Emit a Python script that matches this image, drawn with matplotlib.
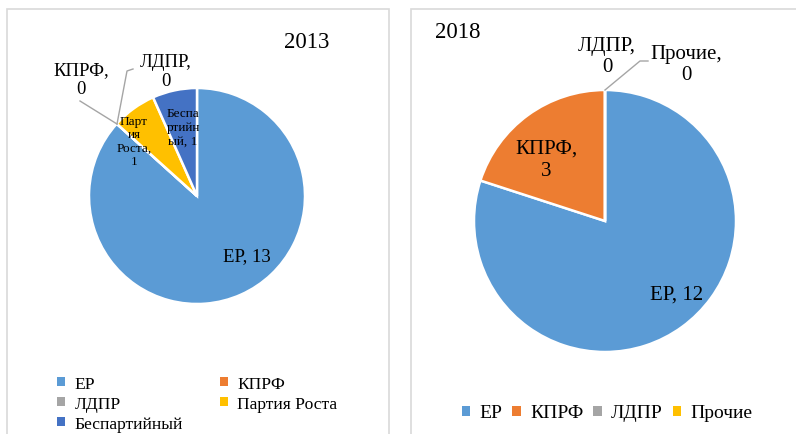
import matplotlib
matplotlib.use("Agg")
import matplotlib.pyplot as plt
from matplotlib.patches import Rectangle, Patch

plt.rcParams['font.family'] = 'Liberation Serif'
FAM = 'Liberation Serif'

# ---- data ----
parties_2013 = ["ЕР", "КПРФ", "ЛДПР", "Партия Роста", "Беспартийный"]
values_2013 = [13, 0, 0, 1, 1]
colors_2013 = ["#5B9BD5", "#ED7D31", "#A5A5A5", "#FFC000", "#4472C4"]

parties_2018 = ["ЕР", "КПРФ", "ЛДПР", "Прочие"]
values_2018 = [12, 3, 0, 0]
colors_2018 = ["#5B9BD5", "#ED7D31", "#A5A5A5", "#FFC000"]

W, H = 796, 435
fig = plt.figure(figsize=(W / 100, H / 100), dpi=100)
ax = fig.add_axes([0, 0, 1, 1])

def Y(yp):
    return H - yp

wp = dict(edgecolor="white", linewidth=1.8)
ax.pie(values_2013, colors=colors_2013, startangle=90, counterclock=False,
       center=(197, Y(197)), radius=108, wedgeprops=wp, frame=True)
ax.pie(values_2018, colors=colors_2018, startangle=90, counterclock=False,
       center=(605, Y(222)), radius=131, wedgeprops=wp, frame=True)
ax.set_xlim(0, W)
ax.set_ylim(0, H)
ax.set_aspect('equal')
ax.axis('off')

# panel borders
ax.add_patch(Rectangle((7, Y(440)), 382, 430, fill=False, ec="#D9D9D9", lw=1.2))
ax.add_patch(Rectangle((411, Y(440)), 400, 430, fill=False, ec="#D9D9D9", lw=1.2))

tk = dict(family=FAM, ha='center', va='center')
# titles
ax.text(307, Y(42), "2013", fontsize=16.5, **tk)
ax.text(458, Y(33), "2018", fontsize=16.5, **tk)

# 2013 labels
fs1 = 13.5
ax.text(247, Y(257), f"{parties_2013[0]}, {values_2013[0]}", fontsize=fs1, **tk)
ax.text(81, Y(80), f"{parties_2013[1]},\n{values_2013[1]}", fontsize=fs1, linespacing=1.2, **tk)
ax.text(166, Y(72), f"{parties_2013[2]},\n{values_2013[2]}", fontsize=fs1, linespacing=1.2, **tk)
ax.text(134, Y(142), "Парт\nия\nРоста,\n" + str(values_2013[3]), fontsize=9.5, linespacing=1.15, **tk)
ax.text(183, Y(128), "Беспа\nртийн\nый, " + str(values_2013[4]), fontsize=9.5, linespacing=1.2, **tk)
ax.plot([117, 80], [Y(125), Y(102)], color="#A5A5A5", lw=1)
ax.plot([117, 127, 133], [Y(125), Y(72), Y(70)], color="#A5A5A5", lw=1)

# 2018 labels
fs2 = 15
ax.text(677, Y(295), f"{parties_2018[0]}, {values_2018[0]}", fontsize=fs2, **tk)
ax.text(546, Y(160), f"{parties_2018[1]},\n{values_2018[1]}", fontsize=fs2, linespacing=1.25, **tk)
ax.text(607, Y(57), f"{parties_2018[2]},\n{values_2018[2]}", fontsize=fs2, linespacing=1.2, **tk)
ax.text(686, Y(65), f"{parties_2018[3]},\n{values_2018[3]}", fontsize=fs2, linespacing=1.2, **tk)
ax.plot([605, 640, 648], [Y(91), Y(62), Y(62)], color="#A5A5A5", lw=1)

# legends
order = [0, 2, 4, 1, 3]
h13 = [Patch(facecolor=colors_2013[i], edgecolor='none') for i in order]
l13 = [parties_2013[i] for i in order]
fig.legend(h13, l13, ncol=2, loc='upper left', bbox_to_anchor=(57 / W, 1 - 377 / H),
           frameon=False, prop=dict(family=FAM, size=12.6), handlelength=0.45, handleheight=0.45,
           handletextpad=0.55, columnspacing=2.1, labelspacing=0.22, borderpad=0,
           borderaxespad=0)

h18 = [Patch(facecolor=c, edgecolor='none') for c in colors_2018]
fig.legend(h18, parties_2018, ncol=4, loc='center left', bbox_to_anchor=(462 / W, 1 - 414 / H),
           frameon=False, prop=dict(family=FAM, size=14), handlelength=0.42, handleheight=0.42,
           handletextpad=0.5, columnspacing=0.5, borderpad=0, borderaxespad=0)

fig.savefig("out.png", dpi=100, facecolor="white")
